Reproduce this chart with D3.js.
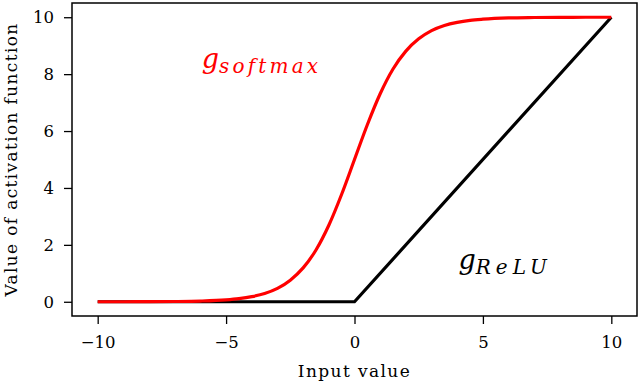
<!DOCTYPE html>
<html>
<head>
<meta charset="utf-8">
<script src="https://cdn.jsdelivr.net/npm/d3@7"></script>
<style>
  body { margin: 0; background: white; }
  text { font-family: "DejaVu Serif", serif; }
</style>
</head>
<body>
<div id="chart"></div>
<script>
// values
const reluX = [-10, 0, 10];
const reluY = [0, 0, 10];

const softX = [-10, -9, -8, -7, -6, -5, -4.5, -4, -3.5, -3, -2.5, -2, -1.5, -1, -0.5, 0,
  0.5, 1, 1.5, 2, 2.5, 3, 3.5, 4, 4.5, 5, 6, 7, 8, 9, 10];
const softY = [0.0, 0.001, 0.003, 0.009, 0.025, 0.067, 0.11, 0.18, 0.29, 0.47, 0.76, 1.19, 1.82, 2.69, 3.78, 5.0,
  6.22, 7.31, 8.18, 8.81, 9.24, 9.53, 9.71, 9.82, 9.89, 9.93, 9.975, 9.99, 9.997, 9.999, 10.0];

const xTicks = [-10, -5, 0, 5, 10];
const yTicks = [0, 2, 4, 6, 8, 10];

const W = 640, H = 385;
const margin = { left: 72, right: 3, top: 3, bottom: 69 };

const svg = d3.select('#chart')
  .append('svg')
  .attr('width', W)
  .attr('height', H);

const x = d3.scaleLinear().domain([-11, 11]).range([margin.left, W - margin.right]);
const y = d3.scaleLinear().domain([-0.5, 10.5]).range([H - margin.bottom, margin.top]);

const fmt = d => d3.format('d')(d);

// axes
const xAxis = svg.append('g')
  .attr('transform', `translate(0,${H - margin.bottom})`)
  .call(d3.axisBottom(x).tickValues(xTicks).tickFormat(fmt).tickSize(8).tickPadding(12).tickSizeOuter(0));
const yAxis = svg.append('g')
  .attr('transform', `translate(${margin.left},0)`)
  .call(d3.axisLeft(y).tickValues(yTicks).tickFormat(fmt).tickSize(8).tickPadding(10).tickSizeOuter(0));

[xAxis, yAxis].forEach(a => {
  a.select('.domain').remove();
  a.selectAll('.tick line').attr('stroke', '#000').attr('stroke-width', 1.3);
  a.selectAll('.tick text').attr('font-size', 16.5).attr('fill', '#000')
    .style('font-family', '"DejaVu Serif", serif');
});

// lines
const line = d3.line().x(d => x(d[0])).y(d => y(d[1]));

svg.append('path')
  .datum(d3.zip(reluX, reluY))
  .attr('fill', 'none')
  .attr('stroke', '#000')
  .attr('stroke-width', 3.2)
  .attr('stroke-linejoin', 'round')
  .attr('d', line);

svg.append('path')
  .datum(d3.zip(softX, softY))
  .attr('fill', 'none')
  .attr('stroke', '#ff0000')
  .attr('stroke-width', 3.2)
  .attr('d', line.curve(d3.curveMonotoneX));

// frame
svg.append('rect')
  .attr('x', margin.left)
  .attr('y', margin.top)
  .attr('width', W - margin.left - margin.right)
  .attr('height', H - margin.top - margin.bottom)
  .attr('fill', 'none')
  .attr('stroke', '#000')
  .attr('stroke-width', 1.5);

// labels
svg.append('text')
  .attr('x', x(0))
  .attr('y', 377)
  .attr('text-anchor', 'middle')
  .attr('font-size', 17)
  .attr('letter-spacing', 1.4)
  .text('Input value');

svg.append('text')
  .attr('transform', `translate(17,${y(5)}) rotate(-90)`)
  .attr('text-anchor', 'middle')
  .attr('font-size', 17)
  .attr('letter-spacing', 1.35)
  .text('Value of activation function');

function mathLabel(tx, ty, base, sub, color, spacing) {
  const t = svg.append('text')
    .attr('x', tx)
    .attr('y', ty)
    .attr('fill', color)
    .attr('font-style', 'italic');
  t.append('tspan').attr('font-size', 27).text(base);
  t.append('tspan').attr('font-size', 20).attr('dy', 5)
    .attr('letter-spacing', spacing).text(sub);
}
mathLabel(x(-5.95), 68, 'g', 'softmax', '#ff0000', 3.2);
mathLabel(x(4.05), 269, 'g', 'ReLU', '#000', 5);
</script>
</body>
</html>
